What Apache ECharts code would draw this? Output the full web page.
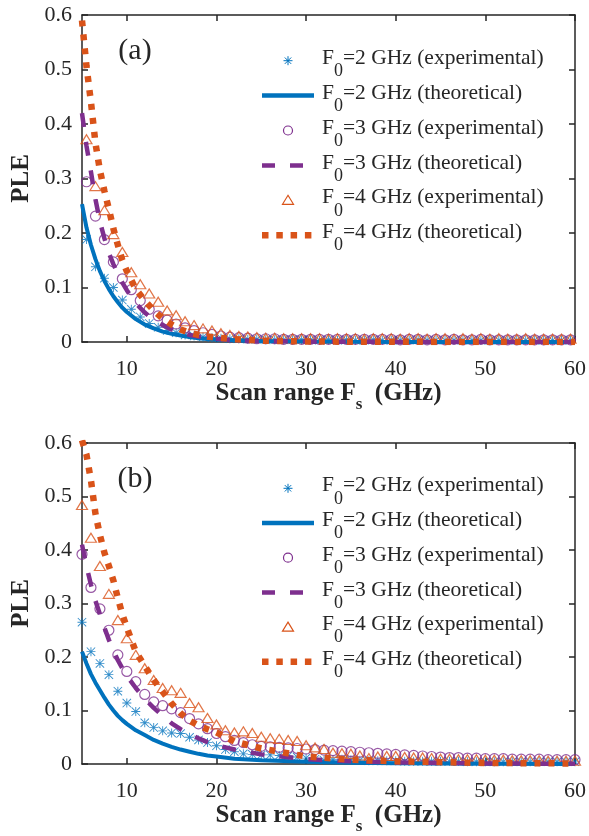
<!DOCTYPE html>
<html>
<head>
<meta charset="utf-8">
<script src="https://cdn.jsdelivr.net/npm/echarts@6/dist/echarts.min.js"></script>
<style>
  html, body { margin: 0; padding: 0; background: #fff; }
  #main { width: 589px; height: 836px; }
</style>
</head>
<body>
<div id="main"></div>
<script>
// tick labels
const xTicks = [10, 20, 30, 40, 50, 60]

// legend names
const names = [
  'F0=2 GHz (experimental)', 'F0=2 GHz (theoretical)',
  'F0=3 GHz (experimental)', 'F0=3 GHz (theoretical)',
  'F0=4 GHz (experimental)', 'F0=4 GHz (theoretical)'
]

// panel (a) measured points
const xExpA = [5.5, 6.5, 7.5, 8.5, 9.5, 10.5, 11.5, 12.5, 13.5, 14.5, 15.5, 16.5, 17.5, 18.5, 19.5,
  20.5, 21.5, 22.5, 23.5, 24.5, 25.5, 26.5, 27.5, 28.5, 29.5, 30.5, 31.5, 32.5, 33.5, 34.5,
  35.5, 36.5, 37.5, 38.5, 39.5, 40.5, 41.5, 42.5, 43.5, 44.5, 45.5, 46.5, 47.5, 48.5, 49.5,
  50.5, 51.5, 52.5, 53.5, 54.5, 55.5, 56.5, 57.5, 58.5, 59.5]
const exp2A = [0.188, 0.138, 0.117, 0.100, 0.077, 0.060, 0.046, 0.034, 0.027, 0.021, 0.017, 0.013, 0.011, 0.009, 0.008,
  0.007, 0.006, 0.006, 0.005, 0.005, 0.004, 0.004, 0.004, 0.004, 0.004, 0.004, 0.003, 0.004, 0.003, 0.004,
  0.003, 0.003, 0.004, 0.003, 0.003, 0.003, 0.003, 0.004, 0.003, 0.003, 0.003, 0.003, 0.003, 0.003, 0.003,
  0.003, 0.003, 0.003, 0.003, 0.003, 0.003, 0.003, 0.003, 0.003, 0.003]
const exp3A = [0.294, 0.231, 0.188, 0.147, 0.116, 0.096, 0.076, 0.060, 0.048, 0.040, 0.033, 0.026, 0.021, 0.017, 0.014,
  0.011, 0.009, 0.008, 0.007, 0.006, 0.006, 0.006, 0.005, 0.005, 0.005, 0.005, 0.005, 0.005, 0.005, 0.005,
  0.005, 0.005, 0.005, 0.005, 0.005, 0.004, 0.005, 0.005, 0.004, 0.005, 0.004, 0.005, 0.004, 0.004, 0.005,
  0.004, 0.004, 0.004, 0.004, 0.004, 0.004, 0.004, 0.004, 0.004, 0.004]
const exp4A = [0.372, 0.286, 0.242, 0.198, 0.165, 0.128, 0.106, 0.089, 0.074, 0.058, 0.049, 0.038, 0.031, 0.025, 0.021,
  0.016, 0.013, 0.011, 0.010, 0.009, 0.008, 0.008, 0.007, 0.007, 0.007, 0.007, 0.007, 0.006, 0.007, 0.007,
  0.007, 0.006, 0.007, 0.007, 0.007, 0.006, 0.007, 0.007, 0.006, 0.007, 0.007, 0.006, 0.007, 0.006, 0.007,
  0.006, 0.007, 0.006, 0.006, 0.007, 0.006, 0.006, 0.006, 0.006, 0.006]

// panel (b) measured points
const xExpB = [5, 6, 7, 8, 9, 10, 11, 12, 13, 14, 15, 16, 17, 18, 19, 20, 21, 22, 23, 24, 25, 26, 27, 28,
  29, 30, 31, 32, 33, 34, 35, 36, 37, 38, 39, 40, 41, 42, 43, 44, 45, 46, 47, 48, 49, 50, 51, 52,
  53, 54, 55, 56, 57, 58, 59, 60]
const exp2B = [0.265, 0.210, 0.188, 0.167, 0.136, 0.114, 0.098, 0.077, 0.068, 0.062, 0.058, 0.057, 0.050, 0.045,
  0.040, 0.034, 0.027, 0.023, 0.019, 0.018, 0.017, 0.017, 0.016, 0.015, 0.013, 0.011, 0.009, 0.007,
  0.008, 0.009, 0.008, 0.007, 0.006, 0.006, 0.006, 0.006, 0.005, 0.005, 0.005, 0.005, 0.005, 0.005,
  0.005, 0.004, 0.004, 0.004, 0.004, 0.004, 0.004, 0.004, 0.004, 0.004, 0.004, 0.004, 0.004, 0.004]
const exp3B = [0.392, 0.330, 0.290, 0.250, 0.204, 0.173, 0.154, 0.130, 0.116, 0.109, 0.103, 0.096, 0.085, 0.075,
  0.066, 0.057, 0.051, 0.044, 0.040, 0.036, 0.033, 0.032, 0.031, 0.030, 0.029, 0.028, 0.027, 0.026,
  0.025, 0.024, 0.023, 0.022, 0.021, 0.020, 0.019, 0.018, 0.017, 0.016, 0.015, 0.014, 0.013, 0.012,
  0.012, 0.011, 0.011, 0.010, 0.010, 0.010, 0.009, 0.009, 0.009, 0.009, 0.008, 0.008, 0.008, 0.008]
const exp4B = [0.484, 0.423, 0.370, 0.318, 0.269, 0.235, 0.204, 0.179, 0.157, 0.142, 0.138, 0.133, 0.114, 0.106,
  0.086, 0.074, 0.063, 0.059, 0.061, 0.058, 0.051, 0.048, 0.047, 0.045, 0.043, 0.035, 0.031, 0.028,
  0.021, 0.020, 0.019, 0.016, 0.011, 0.014, 0.015, 0.015, 0.013, 0.012, 0.012, 0.011, 0.010, 0.010,
  0.009, 0.009, 0.009, 0.008, 0.008, 0.008, 0.007, 0.007, 0.007, 0.007, 0.006, 0.006, 0.006, 0.006]

// theoretical curves, same x samples for both panels
const xTheo = [5, 5.5, 6, 6.5, 7, 7.5, 8, 8.5, 9, 9.5, 10, 11, 12, 13, 14, 15, 16, 17, 18, 19, 20, 22, 25, 30, 35, 40, 50, 60]
const theo2A = [0.253, 0.21, 0.178, 0.152, 0.13, 0.112, 0.097, 0.084, 0.073, 0.063, 0.055, 0.042, 0.032, 0.025,
  0.019, 0.015, 0.012, 0.009, 0.007, 0.0057, 0.0046, 0.003, 0.0017, 0.0008, 0.0004, 0.0002, 0.0001, 0]
const theo3A = [0.42, 0.36, 0.312, 0.262, 0.221, 0.19, 0.163, 0.143, 0.125, 0.109, 0.095, 0.071, 0.054, 0.041,
  0.031, 0.023, 0.017, 0.013, 0.010, 0.008, 0.006, 0.0035, 0.0018, 0.0007, 0.0004, 0.0002, 0.0001, 0]
const theo4A = [0.59, 0.506, 0.44, 0.365, 0.315, 0.277, 0.244, 0.208, 0.178, 0.150, 0.130, 0.097, 0.076, 0.058,
  0.043, 0.032, 0.023, 0.017, 0.013, 0.010, 0.008, 0.005, 0.0025, 0.001, 0.0005, 0.0003, 0.0001, 0]
const theo2B = [0.21, 0.188, 0.168, 0.152, 0.138, 0.124, 0.111, 0.1, 0.09, 0.082, 0.075, 0.063, 0.054, 0.045,
  0.038, 0.032, 0.027, 0.023, 0.019, 0.016, 0.014, 0.010, 0.007, 0.004, 0.0025, 0.0015, 0.0006, 0.0002]
const theo3B = [0.41, 0.37, 0.335, 0.305, 0.28, 0.255, 0.232, 0.212, 0.194, 0.179, 0.165, 0.142, 0.122, 0.105,
  0.09, 0.076, 0.065, 0.056, 0.048, 0.041, 0.035, 0.027, 0.018, 0.009, 0.005, 0.003, 0.001, 0.0005]
const theo4B = [0.605, 0.578, 0.53, 0.468, 0.428, 0.395, 0.37, 0.343, 0.31, 0.28, 0.255, 0.21, 0.183, 0.157,
  0.135, 0.113, 0.095, 0.081, 0.072, 0.065, 0.059, 0.042, 0.029, 0.014, 0.008, 0.005, 0.002, 0.001]

const blue = '#0072BD'
const purple = '#7E2F8E'
const orange = '#D95319'
const ink = '#262626'
const serif = "'Liberation Serif', 'Times New Roman', serif"
const star = 'path://M9,0h2v20h-2z M0,9h20v2h-20z M1.4,0L20,18.6L18.6,20L0,1.4z M18.6,0L20,1.4L1.4,20L0,18.6z'

const zip = (xs, ys) => xs.map((x, i) => [x, ys[i]])

const panels = [
  { top: 15, label: '(a)', xExp: xExpA, exp: [exp2A, exp3A, exp4A], theo: [theo2A, theo3A, theo4A], legY: 60.7, legStep: 34.9 },
  { top: 443, label: '(b)', xExp: xExpB, exp: [exp2B, exp3B, exp4B], theo: [theo2B, theo3B, theo4B], legY: 488.3, legStep: 34.7 }
]
const gridH = 327

const axisLine = { show: true, onZero: false, lineStyle: { color: ink, width: 1.5 } }
const tick = { show: true, inside: true, length: 6, lineStyle: { color: ink, width: 1.5 } }
const legRich = {
  n: { fontFamily: serif, fontSize: 21.5, lineHeight: 22, fill: ink, color: ink, padding: [0, 0, 11, 0], verticalAlign: 'bottom' },
  s: { fontFamily: serif, fontSize: 18, lineHeight: 18, fill: ink, color: ink, verticalAlign: 'bottom' }
}

// legend icons, drawn by hand (centre cx, cy)
const legendIcon = (i, cx, cy) => {
  if (i === 0) {
    const r = 4.5, d = 3.2
    return [[0, -r, 0, r], [-r, 0, r, 0], [-d, -d, d, d], [-d, d, d, -d]].map(s => ({
      type: 'line', shape: { x1: cx + s[0], y1: cy + s[1], x2: cx + s[2], y2: cy + s[3] },
      style: { stroke: blue, lineWidth: 1 }
    }))
  }
  if (i === 2) return [{ type: 'circle', shape: { cx, cy, r: 4.5 }, style: { fill: null, stroke: purple, lineWidth: 1.2 } }]
  if (i === 4) {
    return [{ type: 'polygon', shape: { points: [[cx, cy - 5], [cx + 5.5, cy + 4], [cx - 5.5, cy + 4]] },
      style: { fill: null, stroke: orange, lineWidth: 1.2 } }]
  }
  const st = [null, { stroke: blue, lineWidth: 4.5 }, null, { stroke: purple, lineWidth: 4.5, lineDash: [13, 15] },
    null, { stroke: orange, lineWidth: 6.5, lineDash: [6.5, 7.8] }][i]
  return [{ type: 'line', shape: { x1: cx - 26, y1: cy, x2: cx + 26, y2: cy }, style: st }]
}

const grid = []
const xAxis = []
const yAxis = []
const series = []
const graphic = []

panels.forEach((p, k) => {
  grid.push({ left: 82, right: 12, top: p.top, height: gridH })
  xAxis.push({
    type: 'value', gridIndex: k, min: 5, max: 60, position: 'bottom',
    axisLine, axisTick: { ...tick, customValues: xTicks }, splitLine: { show: false },
    axisLabel: { customValues: xTicks, margin: 16, fontSize: 22, lineHeight: 22, fontFamily: serif, color: ink },
    name: '{b|Scan range F}{s|s}{b|  (GHz)}', nameLocation: 'middle', nameGap: 46,
    nameTextStyle: {
      rich: {
        b: { fontFamily: serif, fontWeight: 'bold', fontSize: 25, lineHeight: 25, color: ink, padding: [0, 0, 7, 0], verticalAlign: 'bottom' },
        s: { fontFamily: serif, fontWeight: 'bold', fontSize: 17, lineHeight: 17, color: ink, verticalAlign: 'bottom' }
      }
    }
  })
  xAxis.push({
    type: 'value', gridIndex: k, min: 5, max: 60, position: 'top',
    axisLine, axisTick: { ...tick, customValues: xTicks }, axisLabel: { show: false }, splitLine: { show: false }
  })
  yAxis.push({
    type: 'value', gridIndex: k, min: 0, max: 0.6, interval: 0.1, position: 'left',
    axisLine, axisTick: tick, splitLine: { show: false },
    axisLabel: { margin: 10, fontSize: 22, fontFamily: serif, color: ink },
    name: 'PLE', nameLocation: 'middle', nameRotate: 90, nameGap: 48,
    nameTextStyle: { fontFamily: serif, fontWeight: 'bold', fontSize: 25, color: ink }
  })
  yAxis.push({
    type: 'value', gridIndex: k, min: 0, max: 0.6, interval: 0.1, position: 'right',
    axisLine, axisTick: tick, axisLabel: { show: false }, splitLine: { show: false }
  })

  const xi = 2 * k
  const yi = 2 * k
  const hollow = c => ({ color: 'rgba(0,0,0,0)', borderColor: c, borderWidth: 1.2 })
  series.push(
    { name: names[0], type: 'scatter', xAxisIndex: xi, yAxisIndex: yi, symbol: star, symbolSize: 9,
      itemStyle: { color: blue, borderWidth: 0 }, data: zip(p.xExp, p.exp[0]) },
    { name: names[1], type: 'line', xAxisIndex: xi, yAxisIndex: yi, symbol: 'none', smooth: false,
      lineStyle: { color: blue, width: 4 }, itemStyle: { color: blue }, data: zip(xTheo, p.theo[0]) },
    { name: names[2], type: 'scatter', xAxisIndex: xi, yAxisIndex: yi, symbol: 'circle', symbolSize: 10,
      itemStyle: hollow(purple), data: zip(p.xExp, p.exp[1]) },
    { name: names[3], type: 'line', xAxisIndex: xi, yAxisIndex: yi, symbol: 'none', smooth: false,
      lineStyle: { color: purple, width: 4.5, type: [14, 15] }, itemStyle: { color: purple }, data: zip(xTheo, p.theo[1]) },
    { name: names[4], type: 'scatter', xAxisIndex: xi, yAxisIndex: yi, symbol: 'triangle', symbolSize: [11, 9],
      itemStyle: hollow(orange), data: zip(p.xExp, p.exp[2]) },
    { name: names[5], type: 'line', xAxisIndex: xi, yAxisIndex: yi, symbol: 'none', smooth: false,
      lineStyle: { color: orange, width: 6.5, type: [6, 8] }, itemStyle: { color: orange }, data: zip(xTheo, p.theo[2]) }
  )

  names.forEach((n, i) => {
    const cy = p.legY + i * p.legStep
    graphic.push(...legendIcon(i, 288, cy))
    graphic.push({
      type: 'text', x: 322, y: cy + 8.5,
      style: { text: '{n|F}{s|0}{n|' + n.slice(2) + '}', rich: legRich, verticalAlign: 'middle', align: 'left' }
    })
  })

  graphic.push({
    type: 'text', x: 135, y: p.top + 36,
    style: { text: p.label, font: '30px ' + serif, fill: ink, align: 'center', verticalAlign: 'middle' }
  })
})

const chart = echarts.init(document.getElementById('main'))
chart.setOption({
  animation: false,
  backgroundColor: '#fff',
  grid, xAxis, yAxis, series, graphic
})
</script>
</body>
</html>
